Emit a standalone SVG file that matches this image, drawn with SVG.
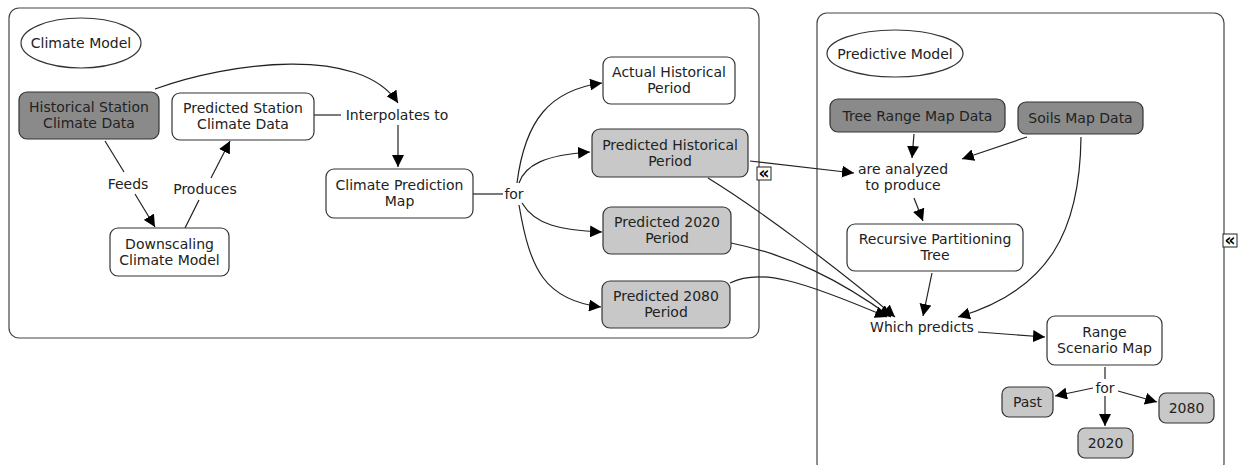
<svg xmlns="http://www.w3.org/2000/svg" width="1245" height="465" viewBox="0 0 1245 465">
<style>
text{font-family:"DejaVu Sans",Verdana,sans-serif;font-size:14px;fill:#222;text-anchor:middle}
.cont{fill:#fff;stroke:#444;stroke-width:1.2}
.n{stroke:#333;stroke-width:1.2}
.w{fill:#fff}
.d{fill:#8a8a8a}
.l{fill:#c8c8c8}
.c{fill:none;stroke:#222;stroke-width:1.2}
.a{marker-end:url(#ah)}
.ic{fill:#fff;stroke:#222;stroke-width:1}
.ict{font-size:17px;font-weight:bold;fill:#000}
</style>
<defs>
<marker id="ah" markerUnits="userSpaceOnUse" markerWidth="14" markerHeight="12" refX="12" refY="6" orient="auto">
<path d="M0,0 L12,6 L0,12 z" fill="#000"/>
</marker>
</defs>
<rect width="1245" height="465" fill="#fff"/>
<g id="container-climate"><rect class="cont" x="9" y="8" width="750" height="330" rx="10"/></g>
<g id="container-predictive"><rect class="cont" x="817" y="13" width="407" height="460" rx="10"/></g>

<g id="connectors">
<line class="c" x1="105" y1="141" x2="124" y2="172"/>
<line class="c a" x1="135" y1="194" x2="155" y2="227"/>
<line class="c" x1="185" y1="228" x2="199" y2="200"/>
<line class="c a" x1="211" y1="178" x2="230" y2="141"/>
<line class="c" x1="314" y1="115" x2="341" y2="115"/>
<line class="c a" x1="398" y1="125" x2="398" y2="167"/>
<path class="c a" d="M155,89 C230,62 360,45 398,103"/>
<line class="c" x1="473" y1="194" x2="503" y2="194"/>
<path class="c a" d="M517,183 C525,120 550,90 602,83"/>
<path class="c a" d="M519,183 C525,165 545,155 590,152"/>
<path class="c a" d="M522,203 C535,225 560,230 602,232"/>
<path class="c a" d="M519,205 C530,270 545,300 601,307"/>
<line class="c a" x1="750" y1="161" x2="854" y2="173"/>
<line class="c a" x1="914" y1="134" x2="912" y2="158"/>
<line class="c a" x1="1027" y1="137" x2="962" y2="159"/>
<line class="c a" x1="914" y1="198" x2="923" y2="221"/>
<path class="c a" d="M708,178 C760,210 840,270 895,317"/>
<path class="c a" d="M731,243 C790,255 840,280 891,317"/>
<path class="c a" d="M730,283 C760,268 800,280 887,317"/>
<line class="c a" x1="932" y1="273" x2="923" y2="316"/>
<path class="c a" d="M1081,137 C1080,230 1050,290 958,317"/>
<line class="c a" x1="978" y1="332" x2="1045" y2="337"/>
<line class="c" x1="1105" y1="367" x2="1105" y2="379"/>
<line class="c a" x1="1093" y1="388" x2="1055" y2="396"/>
<line class="c a" x1="1118" y1="391" x2="1157" y2="402"/>
<line class="c a" x1="1105" y1="396" x2="1105" y2="426"/>
</g>

<g id="labels">
<text x="128" y="189">Feeds</text>
<text x="205" y="194">Produces</text>
<text x="397" y="120">Interpolates to</text>
<text x="514" y="199">for</text>
<text x="903" y="174">are analyzed</text>
<text x="903" y="190">to produce</text>
<text x="922" y="332">Which predicts</text>
<text x="1105" y="393">for</text>
</g>

<g id="climate-model"><ellipse cx="81" cy="43" rx="60" ry="25" fill="#fff" stroke="#333" stroke-width="1.2"/><text x="81" y="48">Climate Model</text></g>
<g id="historical-station"><rect class="n d" x="19" y="92" width="140" height="47" rx="8"/><text x="89" y="112">Historical Station</text><text x="89" y="128">Climate Data</text></g>
<g id="predicted-station"><rect class="n w" x="172" y="93" width="142" height="47" rx="8"/><text x="243" y="113">Predicted Station</text><text x="243" y="129">Climate Data</text></g>
<g id="downscaling"><rect class="n w" x="110" y="228" width="119" height="48" rx="8"/><text x="169.5" y="249">Downscaling</text><text x="169.5" y="265">Climate Model</text></g>
<g id="climate-prediction-map"><rect class="n w" x="326" y="169" width="147" height="49" rx="8"/><text x="399.5" y="190">Climate Prediction</text><text x="399.5" y="206">Map</text></g>
<g id="actual-historical"><rect class="n w" x="603" y="57" width="132" height="47" rx="8"/><text x="669" y="77">Actual Historical</text><text x="669" y="93">Period</text></g>
<g id="predicted-historical"><rect class="n l" x="592" y="129" width="156" height="48" rx="8"/><text x="670" y="150">Predicted Historical</text><text x="670" y="166">Period</text></g>
<g id="predicted-2020"><rect class="n l" x="603" y="207" width="128" height="47" rx="8"/><text x="667" y="227">Predicted 2020</text><text x="667" y="243">Period</text></g>
<g id="predicted-2080"><rect class="n l" x="602" y="281" width="128" height="47" rx="8"/><text x="666" y="301">Predicted 2080</text><text x="666" y="317">Period</text></g>
<g id="collapse-1"><rect class="ic" x="757" y="167" width="14" height="13"/><text class="ict" x="764" y="179">«</text></g>

<g id="predictive-model"><ellipse cx="895" cy="53.5" rx="68" ry="23.5" fill="#fff" stroke="#333" stroke-width="1.2"/><text x="895" y="58.5">Predictive Model</text></g>
<g id="tree-range"><rect class="n d" x="830" y="99" width="175" height="33" rx="8"/><text x="917.5" y="120.5">Tree Range Map Data</text></g>
<g id="soils"><rect class="n d" x="1018" y="102" width="125" height="32" rx="8"/><text x="1080.5" y="123">Soils Map Data</text></g>
<g id="recursive"><rect class="n w" x="847" y="224" width="176" height="47" rx="8"/><text x="935" y="244">Recursive Partitioning</text><text x="935" y="260">Tree</text></g>
<g id="range-scenario"><rect class="n w" x="1047" y="316" width="115" height="49" rx="8"/><text x="1104.5" y="337">Range</text><text x="1104.5" y="353">Scenario Map</text></g>
<g id="past"><rect class="n l" x="1002" y="387" width="51" height="30" rx="7"/><text x="1027.5" y="407">Past</text></g>
<g id="y2080"><rect class="n l" x="1159" y="393" width="55" height="30" rx="7"/><text x="1186.5" y="413">2080</text></g>
<g id="y2020"><rect class="n l" x="1078" y="428" width="55" height="30" rx="7"/><text x="1105.5" y="448">2020</text></g>
<g id="collapse-2"><rect class="ic" x="1223" y="234" width="14" height="13"/><text class="ict" x="1230" y="246">«</text></g>
</svg>
